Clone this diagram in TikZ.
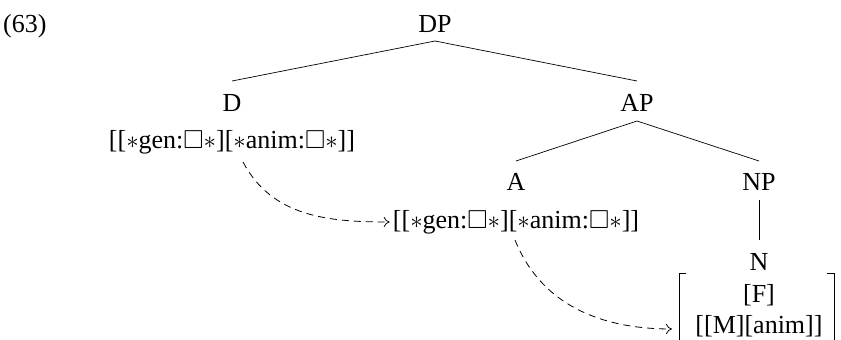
\documentclass[tikz,border=0pt]{standalone}
\usepackage{amssymb}
\usepackage{fontspec}
\setmainfont{Liberation Serif}
\usetikzlibrary{calc,arrows.meta}

\newcommand{\feat}[1]{$\ast$#1:$\square$$\ast$}

\begin{document}
\begin{tikzpicture}[x=1pt,y=-1pt,
  every node/.style={inner sep=0pt,anchor=base,font=\fontsize{26}{31}\selectfont},
  branch/.style={line width=0.7pt},
  agree/.style={line width=0.8pt,dash pattern=on 7pt off 5pt,-{To[length=6pt,width=10pt]}},
  delim/.style={line width=1pt}]
  \useasboundingbox (0,0) rectangle (841,340);

  % example number
  \node[anchor=base west] (ex) at (3,32) {(63)};

  % tree labels
  \node (DP) at (435,32) {DP};
  \node (D)  at (232,111) {D};
  \node (Df) at (232,148) {[[\feat{gen}][\feat{anim}]]};
  \node (AP) at (637,111) {AP};
  \node (A)  at (516,190) {A};
  \node (Af) at (516,228) {[[\feat{gen}][\feat{anim}]]};
  \node (NP) at (759,190) {NP};
  \node (N)  at (759,270) {N};
  \node (Nf) at (759,302) {[F]};
  \node (Ng) at (759,333) {[[M][anim]]};

  % branches
  \draw[branch] ($(D.base)+(0,-30)$) -- ($(DP.base)+(0,9)$) -- ($(AP.base)+(0,-30)$);
  \draw[branch] ($(A.base)+(0,-29)$) -- ($(AP.base)+(0,10)$) -- ($(NP.base)+(0,-29)$);
  \draw[branch] ($(NP.base)+(0,10)$) -- ($(N.base)+(0,-30)$);

  % feature matrix brackets on N
  \coordinate (bl) at (679,273);
  \coordinate (br) at (834,273);
  \draw[delim] ($(bl)+(7,0)$) -- (bl) -- ($(bl)+(0,75)$);
  \draw[delim] ($(br)+(-7,0)$) -- (br) -- ($(br)+(0,75)$);

  % agreement arrows
  \draw[agree] ($(Df.base)+(11,14)$) to[out=-62,in=180] ($(Af.base west)+(-3,-6)$);
  \draw[agree] ($(Af.base)+(-1,12)$) to[out=-68,in=180] ($(bl)+(-7,56)$);
\end{tikzpicture}
\end{document}
